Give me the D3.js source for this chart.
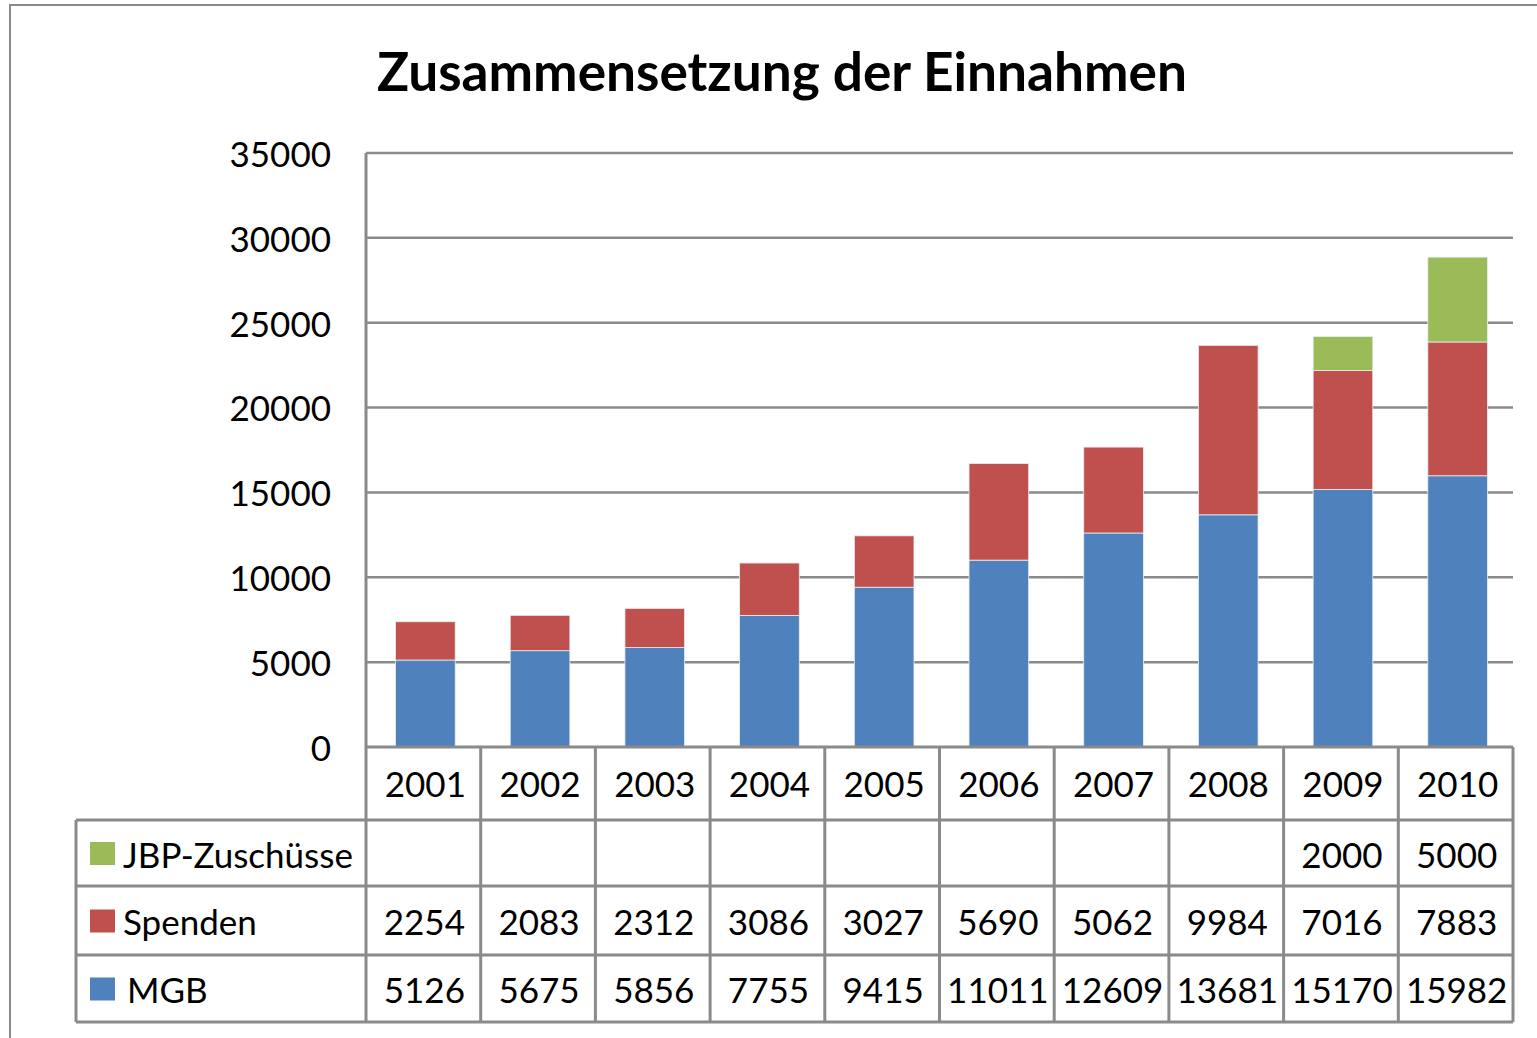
<!DOCTYPE html>
<html><head><meta charset="utf-8">
<script src="https://cdn.jsdelivr.net/npm/d3@7"></script>
<style>html,body{margin:0;padding:0;background:#fff;overflow:hidden}svg{display:block;font-family:Lato,"Open Sans",sans-serif}</style>
</head><body>
<svg id="c" width="1537" height="1038"></svg>
<script>
const title = "Zusammensetzung der Einnahmen";
const years = ["2001","2002","2003","2004","2005","2006","2007","2008","2009","2010"];
const mgb = [5126,5675,5856,7755,9415,11011,12609,13681,15170,15982];
const spenden = [2254,2083,2312,3086,3027,5690,5062,9984,7016,7883];
const jbp = [null,null,null,null,null,null,null,null,2000,5000];
const seriesNames = ["JBP-Zuschüsse","Spenden","MGB"];
const seriesColors = {"MGB":"#4F81BD","Spenden":"#C0504D","JBP-Zuschüsse":"#9BBB59"};
const yTicks = [0,5000,10000,15000,20000,25000,30000,35000];

const svg = d3.select("#c");
const L = 366, R = 1513, T = 153, B = 747;
const tableLeft = 76, headerBottom = 820, rowH = [820, 886, 955, 1022];
const grey = "#8a8a8a";
const fs = 35;

// outer frame
svg.append("rect").attr("x",10).attr("y",5).attr("width",1560).attr("height",1060)
  .attr("fill","none").attr("stroke",grey).attr("stroke-width",2);

const x = d3.scaleBand().domain(years).range([L,R]).padding(0);
const xb = d3.scaleBand().domain(years).range([L+2,R+2]).paddingInner(0.48).paddingOuter(0.24);
const y = d3.scaleLinear().domain([0,35000]).range([B,T]);

// gridlines
svg.append("g").selectAll("line").data(yTicks.filter(d=>d>0)).join("line")
  .attr("x1",L).attr("x2",R).attr("y1",d=>y(d)).attr("y2",d=>y(d))
  .attr("stroke",grey).attr("stroke-width",2.5);

// y labels
const yAxis = d3.axisLeft(y).tickValues(yTicks).tickSize(0).tickPadding(35).tickFormat(d3.format("d"));
const ya = svg.append("g").attr("transform",`translate(${L},0)`).call(yAxis);
ya.select(".domain").remove();
ya.selectAll("text").attr("font-size",fs).attr("font-family","Lato").attr("fill","#000").attr("dy","0.38em");

// stacked data
const rows = years.map((yr,i)=>({year:yr, "MGB":mgb[i], "Spenden":spenden[i], "JBP-Zuschüsse":jbp[i]||0}));
const stack = d3.stack().keys(["MGB","Spenden","JBP-Zuschüsse"])(rows);
svg.append("g").selectAll("g").data(stack).join("g").attr("fill",d=>seriesColors[d.key])
  .selectAll("rect").data(d=>d.filter(p=>p[1]-p[0]>0)).join("rect")
  .attr("x",d=>xb(d.data.year)).attr("width",xb.bandwidth())
  .attr("y",d=>y(d[1])).attr("height",d=>y(d[0])-y(d[1]))
  .attr("stroke","#e8eef4").attr("stroke-width",0.8);

// table lines
const tl = svg.append("g").attr("stroke",grey).attr("stroke-width",3).attr("fill","none");
tl.append("line").attr("x1",L).attr("x2",R).attr("y1",B).attr("y2",B);
tl.append("line").attr("x1",L).attr("x2",L).attr("y1",T).attr("y2",rowH[3]);
const colEdges = years.map(d=>x(d)).concat([R]).slice(1);
tl.selectAll("line.col").data(colEdges).join("line").attr("class","col")
  .attr("x1",d=>d).attr("x2",d=>d).attr("y1",B).attr("y2",rowH[3]);
tl.selectAll("line.row").data(rowH).join("line").attr("class","row")
  .attr("x1",tableLeft).attr("x2",R).attr("y1",d=>d).attr("y2",d=>d);
tl.append("line").attr("x1",tableLeft).attr("x2",tableLeft).attr("y1",rowH[0]).attr("y2",rowH[3]);

// header years
svg.append("g").selectAll("text").data(years).join("text")
  .attr("x",d=>x(d)+x.bandwidth()/2+2).attr("y",(B+headerBottom)/2+1).attr("dy","0.36em")
  .attr("text-anchor","middle").attr("font-size",fs).text(d=>d);

// table body
const tableData = {"JBP-Zuschüsse":jbp,"Spenden":spenden,"MGB":mgb};
seriesNames.forEach((name,r)=>{
  const cy = (rowH[r]+rowH[r+1])/2 + 2;
  svg.append("rect").attr("x",90).attr("y",cy-13).attr("width",25).attr("height",23).attr("fill",seriesColors[name]);
  svg.append("text").attr("x",name==="MGB"?127:123).attr("y",cy).attr("dy","0.36em").attr("font-size",fs).text(name);
  svg.append("g").selectAll("text").data(years.map((yr,i)=>({yr,v:tableData[name][i]})).filter(d=>d.v!=null)).join("text")
    .attr("x",d=>x(d.yr)+x.bandwidth()/2+1).attr("y",cy).attr("dy","0.36em")
    .attr("text-anchor","middle").attr("font-size",fs).text(d=>d.v);
});

// title
const t = svg.append("text").attr("x",(377+1187)/2).attr("y",91).attr("text-anchor","middle")
  .attr("font-weight","bold").attr("font-size",50).text(title);
const w = t.node().getComputedTextLength();
t.attr("font-size",50*810/w);
</script>
</body></html>
